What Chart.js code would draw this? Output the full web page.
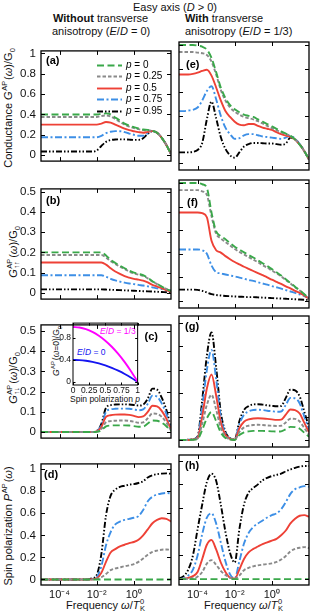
<!DOCTYPE html>
<html>
<head>
<meta charset="utf-8">
<script src="https://cdn.jsdelivr.net/npm/chart.js@4.4.1/dist/chart.umd.min.js"></script>
<style>
  html, body { margin: 0; padding: 0; background: #fff; }
  body { width: 312px; height: 616px; position: relative; overflow: hidden;
         font-family: 'Liberation Sans', Arial, Helvetica, sans-serif; color: #111; }
  canvas { position: absolute; }
  .txt { position: absolute; white-space: nowrap; font-size: 11px; line-height: 1; }
  .ctr { transform: translate(-50%, -50%); }
  .rot { transform: translate(-50%, -50%) rotate(-90deg); }
  .ss { display: inline-block; vertical-align: middle; font-size: 0.68em; line-height: 0.95;
        text-align: left; margin: 0 1px 0 0.5px; position: relative; top: -1px; }
  .ss span { display: block; }
  sup, sub { font-size: 0.68em; line-height: 0; }
  .small { font-size: 8.5px; }
</style>
</head>
<body>

<!-- headers -->
<div class="txt ctr" style="left:175px; top:7px;">Easy axis (<i>D</i> &gt; 0)</div>
<div class="txt" style="left:53px; top:13px;"><b>Without</b> transverse</div>
<div class="txt" style="left:52px; top:26px;">anisotropy (<i>E</i>/<i>D</i> = 0)</div>
<div class="txt" style="left:185px; top:13px;"><b>With</b> transverse</div>
<div class="txt" style="left:185px; top:26px;">anisotropy (<i>E</i>/<i>D</i> = 1/3)</div>

<!-- y axis titles -->
<div class="txt rot" style="left:9px; top:108px;">Conductance <i>G</i><span class="ss"><span>AP</span><span>&nbsp;</span></span>(<i>ω</i>)/G<sub>0</sub></div>
<div class="txt rot" style="left:14px; top:252px;"><i>G</i><span class="ss"><span>AP</span><span>↑↑</span></span>(<i>ω</i>)/G<sub>0</sub></div>
<div class="txt rot" style="left:14px; top:378px;"><i>G</i><span class="ss"><span>AP</span><span>↑↓</span></span>(<i>ω</i>)/G<sub>0</sub></div>
<div class="txt rot" style="left:9px; top:526px;">Spin polarization <i>P</i><span class="ss"><span>AP</span><span>&nbsp;</span></span>(<i>ω</i>)</div>

<!-- x axis titles -->
<div class="txt ctr" style="left:106px; top:606px;">Frequency <i>ω</i>/<i>T</i><span class="ss"><span>0</span><span>K</span></span></div>
<div class="txt ctr" style="left:244px; top:606px;">Frequency <i>ω</i>/<i>T</i><span class="ss"><span>0</span><span>K</span></span></div>

<!-- inset texts -->
<div class="txt rot small" style="left:57px; top:351px;"><i>G</i><span class="ss"><span>AP</span><span>&nbsp;</span></span>(<i>ω</i>=0)/G<sub>0</sub></div>
<div class="txt ctr small" style="left:105px; top:399px;">Spin polarization <i>p</i></div>
<div class="txt small" style="left:100px; top:327px; color:#ff00ff;"><i>E</i>/<i>D</i> = 1/3</div>
<div class="txt small" style="left:77px; top:348px; color:#1515f0;"><i>E</i>/<i>D</i> = 0</div>

<script>
// frequency grid, log10(omega / T_K)
const logFreq = [-5,-4.75,-4.5,-4.25,-4,-3.75,-3.5,-3.25,-3,-2.75,-2.5,-2.25,-2,-1.75,-1.5,-1.25,-1,-0.75,-0.5,-0.25,0,0.25,0.5,0.75,1,1.25,1.5,1.75,2];
const polarization = ['0', '0.25', '0.5', '0.75', '0.95'];
const xTicks = [1e-4, 1e-2, 1];
const xTickLabels = ['10\u207B\u2074', '10\u207B\u00B2', '10\u2070'];
const yTicksUnit = [0, 0.2, 0.4, 0.6, 0.8, 1];
const yTicksHalf = [0, 0.1, 0.2, 0.3, 0.4, 0.5];

// (a) total conductance, E/D = 0
const gA0  = [0.4,0.4,0.4,0.4,0.4,0.4,0.4,0.4,0.4,0.4,0.4,0.4,0.4,0.405,0.41,0.4,0.37,0.34,0.31,0.29,0.275,0.262,0.252,0.248,0.238,0.22,0.17,0.1,0.01];
const gA25 = [0.375,0.375,0.375,0.375,0.375,0.375,0.375,0.375,0.375,0.375,0.375,0.375,0.375,0.385,0.39,0.38,0.355,0.325,0.3,0.28,0.266,0.255,0.246,0.244,0.236,0.22,0.17,0.1,0.01];
const gA50 = [0.3,0.3,0.3,0.3,0.3,0.3,0.3,0.3,0.3,0.3,0.3,0.3,0.3,0.31,0.325,0.32,0.3,0.28,0.26,0.245,0.235,0.226,0.22,0.228,0.236,0.22,0.17,0.1,0.01];
const gA75 = [0.175,0.175,0.175,0.175,0.175,0.175,0.175,0.175,0.175,0.175,0.175,0.175,0.176,0.19,0.215,0.23,0.236,0.235,0.226,0.212,0.2,0.19,0.19,0.214,0.236,0.22,0.17,0.1,0.01];
const gA95 = [0.035,0.035,0.035,0.035,0.035,0.035,0.035,0.035,0.035,0.035,0.035,0.035,0.045,0.09,0.13,0.148,0.154,0.155,0.155,0.152,0.15,0.15,0.165,0.21,0.236,0.22,0.17,0.1,0.01];

// (e) total conductance, E/D = 1/3
const gE0  = [1,1,1,1,0.995,0.985,0.96,0.89,0.77,0.64,0.55,0.49,0.455,0.43,0.41,0.4,0.39,0.37,0.35,0.33,0.31,0.29,0.268,0.25,0.23,0.2,0.155,0.1,0.03];
const gE25 = [0.94,0.94,0.94,0.94,0.935,0.93,0.915,0.86,0.75,0.62,0.53,0.47,0.435,0.41,0.39,0.38,0.37,0.355,0.335,0.315,0.295,0.278,0.26,0.245,0.23,0.2,0.155,0.1,0.03];
const gE50 = [0.75,0.75,0.75,0.755,0.765,0.78,0.79,0.74,0.64,0.53,0.44,0.39,0.35,0.325,0.32,0.33,0.33,0.315,0.3,0.29,0.28,0.262,0.245,0.232,0.222,0.2,0.155,0.1,0.03];
const gE75 = [0.44,0.44,0.445,0.45,0.47,0.53,0.61,0.65,0.54,0.4,0.3,0.245,0.205,0.21,0.235,0.245,0.245,0.235,0.225,0.22,0.215,0.21,0.205,0.215,0.232,0.205,0.16,0.1,0.03];
const gE95 = [0.09,0.09,0.09,0.095,0.11,0.17,0.37,0.52,0.38,0.22,0.12,0.065,0.045,0.09,0.14,0.16,0.17,0.17,0.168,0.165,0.165,0.16,0.155,0.165,0.215,0.2,0.16,0.1,0.03];

// (b) up-up conductance, E/D = 0
const gB0  = [0.2,0.2,0.2,0.2,0.2,0.2,0.2,0.2,0.2,0.2,0.2,0.2,0.2,0.2,0.185,0.163,0.148,0.135,0.122,0.11,0.1,0.094,0.088,0.075,0.058,0.045,0.032,0.02,0.01];
const gB25 = [0.1875,0.1875,0.1875,0.1875,0.1875,0.1875,0.1875,0.1875,0.1875,0.1875,0.1875,0.1875,0.1875,0.1875,0.175,0.157,0.143,0.13,0.118,0.106,0.097,0.09,0.084,0.072,0.056,0.044,0.031,0.02,0.01];
const gB50 = [0.15,0.15,0.15,0.15,0.15,0.15,0.15,0.15,0.15,0.15,0.15,0.15,0.15,0.15,0.14,0.122,0.106,0.094,0.083,0.076,0.07,0.066,0.061,0.052,0.04,0.032,0.023,0.014,0.006];
const gB75 = [0.0875,0.0875,0.0875,0.0875,0.0875,0.0875,0.0875,0.0875,0.0875,0.0875,0.0875,0.0875,0.0875,0.0875,0.08,0.07,0.062,0.056,0.051,0.047,0.044,0.04,0.037,0.033,0.028,0.023,0.019,0.015,0.012];
const gB95 = [0.018,0.018,0.018,0.018,0.018,0.018,0.018,0.018,0.018,0.018,0.018,0.018,0.018,0.018,0.017,0.016,0.015,0.014,0.013,0.012,0.011,0.01,0.009,0.008,0.007,0.006,0.005,0.004,0.003];

// (f) up-up conductance, E/D = 1/3
const gF0  = [0.5,0.5,0.5,0.5,0.5,0.495,0.48,0.375,0.295,0.275,0.262,0.245,0.23,0.218,0.206,0.195,0.184,0.172,0.16,0.148,0.135,0.122,0.108,0.092,0.076,0.06,0.045,0.028,0.01];
const gF25 = [0.47,0.47,0.47,0.47,0.47,0.465,0.45,0.36,0.285,0.265,0.25,0.235,0.22,0.208,0.197,0.186,0.175,0.164,0.152,0.141,0.129,0.117,0.104,0.089,0.074,0.058,0.044,0.027,0.01];
const gF50 = [0.375,0.375,0.375,0.375,0.375,0.372,0.355,0.255,0.215,0.205,0.19,0.177,0.165,0.155,0.145,0.136,0.127,0.118,0.109,0.1,0.09,0.081,0.072,0.062,0.053,0.043,0.034,0.022,0.01];
const gF75 = [0.218,0.218,0.218,0.218,0.218,0.215,0.2,0.15,0.122,0.117,0.112,0.108,0.104,0.099,0.094,0.089,0.085,0.079,0.074,0.069,0.063,0.058,0.052,0.046,0.04,0.034,0.028,0.02,0.012];
const gF95 = [0.048,0.048,0.048,0.048,0.047,0.043,0.036,0.029,0.025,0.023,0.021,0.02,0.019,0.018,0.017,0.016,0.016,0.015,0.014,0.013,0.012,0.011,0.01,0.009,0.008,0.007,0.006,0.005,0.004];

// (c) up-down conductance, E/D = 0
const gC0  = [0,0,0,0,0,0,0,0,0,0,0,0,0.001,0.009,0.028,0.032,0.033,0.033,0.033,0.032,0.029,0.026,0.027,0.042,0.057,0.056,0.046,0.029,0.005];
const gC25 = [0,0,0,0,0,0,0,0,0,0,0,0,0.002,0.016,0.048,0.054,0.056,0.057,0.057,0.055,0.051,0.046,0.048,0.068,0.092,0.09,0.075,0.047,0.008];
const gC50 = [0,0,0,0,0,0,0,0,0,0,0,0,0.003,0.025,0.075,0.083,0.086,0.087,0.087,0.085,0.08,0.074,0.077,0.1,0.13,0.127,0.105,0.066,0.012];
const gC75 = [0,0,0,0,0,0,0,0,0,0,0,0,0.004,0.033,0.1,0.112,0.115,0.116,0.116,0.115,0.112,0.108,0.112,0.14,0.18,0.175,0.142,0.09,0.015];
const gC95 = [0,0,0,0,0,0,0,0,0,0,0,0,0.005,0.04,0.12,0.133,0.136,0.137,0.137,0.136,0.134,0.131,0.135,0.165,0.215,0.21,0.17,0.11,0.02];

// (g) up-down conductance, E/D = 1/3
const gG0  = [0,0,0,0.001,0.004,0.043,0.093,0.12,0.08,0.032,0.009,0.002,0,0.021,0.033,0.037,0.039,0.039,0.039,0.038,0.037,0.036,0.037,0.046,0.056,0.055,0.048,0.031,0.014];
const gG25 = [0,0,0,0.001,0.006,0.07,0.15,0.193,0.13,0.052,0.015,0.003,0.001,0.034,0.054,0.061,0.064,0.065,0.064,0.062,0.061,0.06,0.061,0.075,0.091,0.09,0.079,0.051,0.023];
const gG50 = [0,0,0,0.002,0.009,0.1,0.22,0.28,0.19,0.075,0.022,0.005,0.001,0.05,0.078,0.088,0.092,0.093,0.092,0.09,0.088,0.086,0.087,0.108,0.13,0.128,0.113,0.073,0.033];
const gG75 = [0,0,0.001,0.003,0.013,0.14,0.3,0.385,0.26,0.1,0.03,0.007,0.002,0.068,0.108,0.122,0.128,0.129,0.128,0.125,0.123,0.121,0.122,0.15,0.18,0.178,0.156,0.1,0.046];
const gG95 = [0,0,0.001,0.003,0.015,0.17,0.36,0.46,0.31,0.12,0.035,0.008,0.002,0.08,0.128,0.145,0.152,0.153,0.151,0.148,0.146,0.144,0.145,0.18,0.215,0.212,0.186,0.12,0.055];

// (d) spin polarization, E/D = 0
const pD0  = [0,0,0,0,0,0,0,0,0,0,0,0,0,0,0,0,0,0,0,0,0,0,0,0,0,0,0,0,0];
const pD25 = [0,0,0,0,0,0,0,0,0,0,0,0,0.005,0.02,0.05,0.085,0.1,0.11,0.12,0.128,0.14,0.16,0.19,0.225,0.25,0.262,0.27,0.272,0.27];
const pD50 = [0,0,0,0,0,0,0,0,0,0,0,0.002,0.01,0.06,0.16,0.245,0.275,0.3,0.315,0.33,0.34,0.36,0.4,0.455,0.51,0.54,0.555,0.55,0.525];
const pD75 = [0,0,0,0,0,0,0,0,0,0,0,0.005,0.02,0.12,0.31,0.43,0.5,0.525,0.54,0.55,0.56,0.575,0.63,0.71,0.75,0.77,0.78,0.785,0.78];
const pD95 = [0,0,0,0,0,0,0,0,0,0,0.001,0.01,0.04,0.23,0.58,0.76,0.815,0.84,0.85,0.86,0.865,0.875,0.89,0.925,0.945,0.955,0.96,0.962,0.958];

// (h) spin polarization, E/D = 1/3
const pH0  = [0,0,0,0,0,0,0,0,0,0,0,0,0,0,0,0,0,0,0,0,0,0,0,0,0,0,0,0,0];
const pH25 = [0,0,0.003,0.008,0.02,0.06,0.13,0.16,0.12,0.07,0.035,0.012,0.004,0.03,0.075,0.095,0.108,0.116,0.122,0.127,0.133,0.145,0.165,0.195,0.235,0.255,0.265,0.27,0.262];
const pH50 = [0,0.002,0.01,0.025,0.06,0.17,0.29,0.33,0.25,0.14,0.06,0.012,0.004,0.08,0.17,0.225,0.255,0.275,0.295,0.31,0.325,0.34,0.37,0.41,0.47,0.51,0.535,0.54,0.527];
const pH75 = [0,0.005,0.03,0.08,0.2,0.38,0.52,0.555,0.47,0.31,0.15,0.04,0.006,0.15,0.3,0.39,0.44,0.47,0.495,0.52,0.54,0.555,0.59,0.65,0.72,0.76,0.775,0.785,0.78];
const pH95 = [0.005,0.025,0.08,0.2,0.42,0.63,0.82,0.89,0.83,0.63,0.4,0.22,0.14,0.42,0.63,0.73,0.77,0.8,0.835,0.855,0.87,0.88,0.89,0.91,0.925,0.94,0.95,0.955,0.955];

// inset: zero-frequency conductance vs spin polarization
const insetP = [0,0.1,0.2,0.3,0.4,0.5,0.6,0.7,0.8,0.9,1];
const insetAniso = [1,0.99,0.96,0.91,0.84,0.75,0.64,0.51,0.36,0.19,0];
const insetIso = [0.4,0.396,0.384,0.364,0.336,0.3,0.256,0.204,0.144,0.076,0];
const insetTicksX = [0, 0.25, 0.5, 0.75, 1];

const lineStyles = [
  { color: '#3aa84a', dash: [7, 3.5] },
  { color: '#8a8a8a', dash: [3.5, 2] },
  { color: '#ee4136', dash: [] },
  { color: '#3d8fe6', dash: [7, 2.5, 2, 2.5] },
  { color: '#000000', dash: [6, 2, 1.5, 2, 1.5, 2] }
];

const FONT = "'Liberation Sans', Arial, Helvetica, sans-serif";

// frame with inward ticks on all four sides + panel letter + optional legend
const framePlugin = {
  id: 'frame',
  afterDatasetsDraw(chart, args, opts) {
    const { ctx, chartArea: a, scales } = chart;
    const len = opts.tickLen || 4;
    ctx.save();
    ctx.strokeStyle = '#000';
    ctx.lineWidth = 1;
    ctx.beginPath();
    scales.x.ticks.forEach(t => {
      const px = Math.round(scales.x.getPixelForValue(t.value)) + 0.5;
      ctx.moveTo(px, a.bottom); ctx.lineTo(px, a.bottom - len);
      ctx.moveTo(px, a.top); ctx.lineTo(px, a.top + len);
    });
    scales.y.ticks.forEach(t => {
      const py = Math.round(scales.y.getPixelForValue(t.value)) + 0.5;
      ctx.moveTo(a.left, py); ctx.lineTo(a.left + len, py);
      ctx.moveTo(a.right, py); ctx.lineTo(a.right - len, py);
    });
    ctx.stroke();
    ctx.lineWidth = opts.frameWidth || 1.3;
    ctx.strokeRect(a.left, a.top, a.right - a.left, a.bottom - a.top);

    if (opts.letter) {
      ctx.fillStyle = '#000';
      ctx.font = 'bold 11px ' + FONT;
      ctx.textBaseline = 'middle';
      ctx.textAlign = opts.letterAlign || 'left';
      const lx = opts.letterAlign === 'right' ? a.right - opts.letterPos[0] : a.left + opts.letterPos[0];
      ctx.fillText(opts.letter, lx, a.top + opts.letterPos[1]);
    }

    if (opts.legend) {
      const lg = opts.legend;
      chart.data.datasets.forEach((ds, i) => {
        const y = Math.round(a.top + lg.top + i * lg.dy) + 0.5;
        const x0 = a.left + lg.left;
        ctx.strokeStyle = ds.borderColor;
        ctx.lineWidth = ds.borderWidth;
        ctx.setLineDash(ds.borderDash || []);
        ctx.beginPath();
        ctx.moveTo(x0, y); ctx.lineTo(x0 + lg.len, y);
        ctx.stroke();
        ctx.setLineDash([]);
        ctx.fillStyle = '#000';
        ctx.textAlign = 'left';
        ctx.textBaseline = 'middle';
        ctx.font = 'italic 10px ' + FONT;
        const tx = x0 + lg.len + 4;
        ctx.fillText('p', tx, y);
        const w = ctx.measureText('p').width;
        ctx.font = '10px ' + FONT;
        ctx.fillText(' = ' + polarization[i], tx + w, y);
      });
    }
    ctx.restore();
  }
};

const rowTop = [42, 180, 316, 455];
const rowBottom = [170, 308, 447, 585];
const rowRange = [[-0.059, 1.025], [-0.03, 0.513], [-0.03, 0.53], [-0.05, 1.048]];
const rowTicks = [yTicksUnit, yTicksHalf, yTicksHalf, yTicksUnit];
const colLeft = [0, 174];
const colWidth = [174, 138];
const colAxis = [41, 5];

const panels = [
  { row: 0, col: 0, series: [gA0, gA25, gA50, gA75, gA95], letter: '(a)', letterPos: [5, 10], legend: { left: 56, top: 14, dy: 11.5, len: 25 } },
  { row: 1, col: 0, series: [gB0, gB25, gB50, gB75, gB95], letter: '(b)', letterPos: [5, 12] },
  { row: 2, col: 0, series: [gC0, gC25, gC50, gC75, gC95], letter: '(c)', letterPos: [13, 12], letterAlign: 'right' },
  { row: 3, col: 0, series: [pD0, pD25, pD50, pD75, pD95], letter: '(d)', letterPos: [3, 11] },
  { row: 0, col: 1, series: [gE0, gE25, gE50, gE75, gE95], letter: '(e)', letterPos: [7, 23] },
  { row: 1, col: 1, series: [gF0, gF25, gF50, gF75, gF95], letter: '(f)', letterPos: [8, 23] },
  { row: 2, col: 1, series: [gG0, gG25, gG50, gG75, gG95], letter: '(g)', letterPos: [6, 11] },
  { row: 3, col: 1, series: [pH0, pH25, pH50, pH75, pH95], letter: '(h)', letterPos: [6, 11] }
];

function makePanel(p) {
  const isBottom = p.row === 3;
  const xAxisH = isBottom ? 20 : 3;
  const top = rowTop[p.row] - 3;
  const height = rowBottom[p.row] - rowTop[p.row] + 3 + xAxisH;
  const canvas = document.createElement('canvas');
  canvas.width = colWidth[p.col];
  canvas.height = height;
  canvas.style.left = colLeft[p.col] + 'px';
  canvas.style.top = top + 'px';
  document.body.appendChild(canvas);

  const datasets = p.series.map((vals, i) => ({
    label: 'p = ' + polarization[i],
    data: vals.map((v, k) => ({ x: Math.pow(10, logFreq[k]), y: v })),
    borderColor: lineStyles[i].color,
    borderDash: lineStyles[i].dash,
    borderWidth: 1.9,
    pointRadius: 0,
    fill: false,
    cubicInterpolationMode: 'monotone'
  }));

  const yTicks = rowTicks[p.row];
  return new Chart(canvas, {
    type: 'line',
    data: { datasets },
    options: {
      responsive: false,
      animation: false,
      devicePixelRatio: 1,
      layout: { padding: { top: 3, right: 3, left: 0, bottom: 0 } },
      plugins: {
        legend: { display: false },
        tooltip: { enabled: false },
        frame: { letter: p.letter, letterPos: p.letterPos, letterAlign: p.letterAlign, legend: p.legend }
      },
      scales: {
        x: {
          type: 'logarithmic',
          min: 1e-5, max: 1e2,
          grid: { display: false, drawTicks: false },
          border: { display: false },
          afterBuildTicks: s => { s.ticks = xTicks.map(v => ({ value: v })); },
          afterFit: s => { s.height = xAxisH; },
          ticks: {
            display: isBottom,
            autoSkip: false,
            maxRotation: 0,
            padding: 3,
            color: '#111',
            font: { family: FONT, size: 11 },
            callback: (v) => xTickLabels[xTicks.indexOf(v)] || ''
          }
        },
        y: {
          min: rowRange[p.row][0], max: rowRange[p.row][1],
          grid: { display: false, drawTicks: false },
          border: { display: false },
          afterBuildTicks: s => { s.ticks = yTicks.map(v => ({ value: v })); },
          afterFit: s => { s.width = colAxis[p.col]; },
          ticks: {
            display: p.col === 0,
            padding: 5,
            color: '#111',
            font: { family: FONT, size: 11.5 },
            callback: v => String(v)
          }
        }
      }
    },
    plugins: [framePlugin]
  });
}

panels.forEach(makePanel);

// inset in panel (c)
(function () {
  const canvas = document.createElement('canvas');
  canvas.width = 86;
  canvas.height = 79;
  canvas.style.left = '55px';
  canvas.style.top = '316px';
  document.body.appendChild(canvas);
  const toPts = vals => vals.map((v, k) => ({ x: insetP[k], y: v }));
  new Chart(canvas, {
    type: 'line',
    data: {
      datasets: [
        { label: 'E/D = 1/3', data: toPts(insetAniso), borderColor: '#ff00ff', borderWidth: 1.9, pointRadius: 0, cubicInterpolationMode: 'monotone' },
        { label: 'E/D = 0', data: toPts(insetIso), borderColor: '#1515f0', borderWidth: 1.9, pointRadius: 0, cubicInterpolationMode: 'monotone' }
      ]
    },
    options: {
      responsive: false,
      animation: false,
      devicePixelRatio: 1,
      layout: { padding: { top: 3, right: 3, left: 0, bottom: 0 } },
      plugins: { legend: { display: false }, tooltip: { enabled: false }, frame: { tickLen: 2.5, frameWidth: 1 } },
      scales: {
        x: {
          type: 'linear', min: 0, max: 1,
          grid: { display: false, drawTicks: false },
          border: { display: false },
          afterBuildTicks: s => { s.ticks = insetTicksX.map(v => ({ value: v })); },
          afterFit: s => { s.height = 10; },
          ticks: { autoSkip: false, maxRotation: 0, padding: 1, color: '#111', font: { family: FONT, size: 8.5 }, callback: v => String(v) }
        },
        y: {
          min: -0.057, max: 1.07,
          grid: { display: false, drawTicks: false },
          border: { display: false },
          afterBuildTicks: s => { s.ticks = yTicksUnit.map(v => ({ value: v })); },
          afterFit: s => { s.width = 18; },
          ticks: { padding: 2, color: '#111', font: { family: FONT, size: 8.5 }, callback: v => String(v) }
        }
      }
    },
    plugins: [framePlugin]
  });
})();
</script>
</body>
</html>
